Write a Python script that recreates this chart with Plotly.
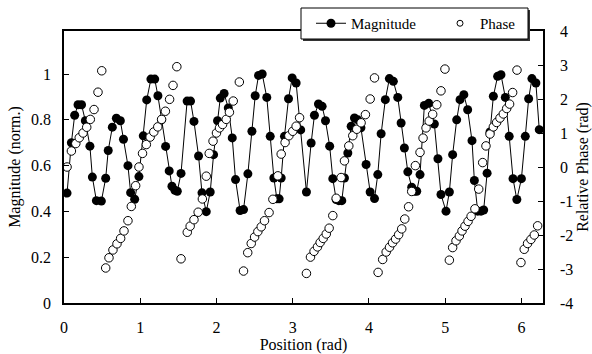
import plotly.graph_objects as go

# ---- data ----
mag_x = [0.04, 0.097, 0.14, 0.184, 0.23, 0.28, 0.34, 0.372, 0.425, 0.49, 0.547, 0.58, 0.634, 0.687, 0.739, 0.78, 0.839, 0.874, 0.927, 0.983,
         1.04, 1.085, 1.14, 1.19, 1.232, 1.28, 1.333, 1.38, 1.416, 1.455, 1.486, 1.535, 1.615, 1.66, 1.705, 1.765, 1.81, 1.866, 1.918, 1.962, 2.014, 2.05,
         2.1, 2.155, 2.207, 2.25, 2.31, 2.355, 2.412, 2.465, 2.508, 2.552, 2.6, 2.66, 2.705, 2.753, 2.792, 2.822, 2.849, 2.892, 2.945, 2.993, 3.045, 3.105,
         3.18, 3.242, 3.285, 3.338, 3.386, 3.43, 3.485, 3.526, 3.57, 3.605, 3.644, 3.679, 3.723, 3.767, 3.81, 3.854, 3.895, 3.963, 4.016, 4.073, 4.116, 4.16,
         4.215, 4.268, 4.32, 4.378, 4.422, 4.465, 4.51, 4.561, 4.596, 4.627, 4.67, 4.727, 4.784, 4.858, 4.905, 4.945, 5.011, 5.055, 5.098, 5.151, 5.195,
         5.245, 5.295, 5.352, 5.383, 5.427, 5.47, 5.505, 5.55, 5.588, 5.632, 5.688, 5.732, 5.789, 5.84, 5.89, 5.94, 6.0, 6.051, 6.095, 6.138, 6.19, 6.234]
mag_y = [0.48, 0.70, 0.82, 0.866, 0.866, 0.796, 0.685, 0.55, 0.447, 0.445, 0.545, 0.666, 0.768, 0.807, 0.796, 0.715, 0.60, 0.482, 0.453, 0.552,
         0.73, 0.887, 0.978, 0.978, 0.905, 0.80, 0.684, 0.577, 0.51, 0.492, 0.488, 0.566, 0.882, 0.882, 0.793, 0.642, 0.481, 0.399, 0.485, 0.648, 0.796, 0.895,
         0.915, 0.852, 0.721, 0.539, 0.404, 0.408, 0.564, 0.75, 0.905, 0.994, 1.0, 0.898, 0.728, 0.546, 0.455, 0.455, 0.546, 0.728, 0.892, 0.983, 0.961, 0.756,
         0.485, 0.699, 0.82, 0.869, 0.859, 0.796, 0.685, 0.543, 0.452, 0.447, 0.447, 0.546, 0.655, 0.772, 0.808, 0.80, 0.765, 0.605, 0.485, 0.456, 0.561, 0.739,
         0.888, 0.98, 0.968, 0.898, 0.786, 0.677, 0.573, 0.506, 0.488, 0.488, 0.561, 0.863, 0.872, 0.782, 0.63, 0.474, 0.401, 0.485, 0.648, 0.80, 0.888,
         0.91, 0.844, 0.709, 0.535, 0.401, 0.401, 0.406, 0.567, 0.747, 0.903, 0.99, 0.997, 0.898, 0.728, 0.543, 0.452, 0.543, 0.728, 0.892, 0.98, 0.961, 0.757]

phase_x = [0.04, 0.097, 0.155, 0.2, 0.25, 0.298, 0.345, 0.394, 0.446, 0.495,
           0.547, 0.59, 0.642, 0.695, 0.743, 0.787, 0.839, 0.883, 0.94, 0.983, 1.03, 1.08, 1.13, 1.178, 1.23, 1.28, 1.33, 1.385, 1.43, 1.48,
           1.535, 1.617, 1.655, 1.705, 1.76, 1.815, 1.866, 1.905, 1.955, 2.0, 2.04, 2.08, 2.128, 2.17, 2.22, 2.3,
           2.355, 2.41, 2.456, 2.5, 2.543, 2.587, 2.63, 2.69, 2.74, 2.805, 2.849, 2.9, 2.95, 3.0, 3.045, 3.09,
           3.18, 3.233, 3.28, 3.325, 3.36, 3.4, 3.44, 3.478, 3.526, 3.57, 3.635, 3.679, 3.736, 3.788, 3.84, 3.897, 3.954, 4.016, 4.073,
           4.12, 4.18, 4.226, 4.27, 4.31, 4.35, 4.39, 4.43, 4.47, 4.52, 4.561, 4.609, 4.67, 4.71, 4.749, 4.79, 4.836, 4.89, 4.945, 4.997,
           5.055, 5.098, 5.142, 5.186, 5.221, 5.26, 5.3, 5.34, 5.39, 5.44, 5.492, 5.535, 5.588, 5.632, 5.675, 5.719, 5.763, 5.807, 5.845, 5.885, 5.942,
           5.994, 6.037, 6.081, 6.125, 6.169, 6.213]
phase_y = [0.0, 0.47, 0.69, 0.86, 1.0, 1.17, 1.40, 1.69, 2.20, 2.83,
           -2.97, -2.67, -2.44, -2.26, -2.1, -1.88, -1.58, -1.16, -0.55, 0.0, 0.4, 0.66, 0.88, 1.03, 1.18, 1.40, 1.64, 1.99, 2.4, 2.95,
           -2.7, -1.92, -1.74, -1.55, -1.33, -0.94, -0.27, 0.40, 0.76, 1.0, 1.15, 1.25, 1.40, 1.61, 1.94, 2.5,
           -3.06, -2.52, -2.25, -2.06, -1.90, -1.76, -1.58, -1.34, -0.95, -0.26, 0.38, 0.72, 0.92, 1.05, 1.2, 1.45,
           -3.13, -2.65, -2.48, -2.35, -2.22, -2.1, -1.97, -1.8, -1.43, -0.92, -0.31, 0.18, 0.62, 0.92, 1.11, 1.30, 1.54, 2.0, 2.62,
           -3.1, -2.72, -2.5, -2.36, -2.23, -2.12, -1.99, -1.82, -1.53, -1.17, -0.72, 0.04, 0.43, 0.85, 1.15, 1.35, 1.55, 1.83, 2.24, 2.88,
           -2.74, -2.37, -2.17, -2.03, -1.88, -1.74, -1.6, -1.45, -1.23, -0.65, 0.13, 0.62, 0.97, 1.18, 1.31, 1.44, 1.56, 1.72, 1.85, 2.19, 2.85,
           -2.81, -2.42, -2.25, -2.13, -2.0, -1.73]

x_ticks = [0, 1, 2, 3, 4, 5, 6]
mag_ticks = [0, 0.2, 0.4, 0.6, 0.8, 1]
phase_ticks = [-4, -3, -2, -1, 0, 1, 2, 3, 4]
phase_ticktext = ["-4", "-3", "-2", "-1", "0", "1", "2", "3", "4"]

FONT = "Liberation Serif"

fig = go.Figure()
fig.add_trace(go.Scatter(
    x=phase_x, y=phase_y, name="Phase", mode="markers", yaxis="y2", showlegend=False,
    marker=dict(symbol="circle", size=8.5, color="white", line=dict(color="black", width=1)),
))
fig.add_trace(go.Scatter(
    x=mag_x, y=mag_y, name="Magnitude", mode="lines+markers", yaxis="y",
    line=dict(color="black", width=1),
    marker=dict(symbol="circle", size=9, color="black"),
))
# legend-only entry for the phase series (smaller legend symbol, as in the reference)
fig.add_trace(go.Scatter(
    x=[None], y=[None], name="Phase", mode="markers", yaxis="y2",
    marker=dict(symbol="circle", size=6, color="white", line=dict(color="black", width=1)),
))

axis_common = dict(showline=True, linecolor="black", linewidth=1.5, ticks="inside",
                   ticklen=5, tickwidth=1.2, tickcolor="black", showgrid=False, zeroline=False,
                   automargin=False,
                   tickfont=dict(family=FONT, size=16, color="black"))

# legend frame (with a slight drop shadow) drawn as shapes, in paper coordinates
def px_x(p):
    return (p - 64) / 479.0

def px_y(p):
    return (303 - p) / 272.0

shapes = [
    dict(type="rect", xref="paper", yref="paper", layer="above",
         x0=px_x(303), x1=px_x(530), y0=px_y(41), y1=px_y(10),
         fillcolor="#333333", line=dict(width=0)),
    dict(type="rect", xref="paper", yref="paper", layer="above",
         x0=px_x(301), x1=px_x(528), y0=px_y(39), y1=px_y(8),
         fillcolor="white", line=dict(color="black", width=1)),
]

fig.update_layout(
    width=592, height=354,
    margin=dict(l=64, r=49, t=31, b=51, autoexpand=False),
    paper_bgcolor="white", plot_bgcolor="white",
    font=dict(family=FONT, size=16, color="black"),
    showlegend=True,
    shapes=shapes,
    legend=dict(orientation="h", x=px_x(311), y=px_y(7), xanchor="left", yanchor="top",
                bgcolor="rgba(0,0,0,0)", borderwidth=0,
                font=dict(family=FONT, size=15, color="black"),
                entrywidth=84),
    xaxis=dict(range=[0, 6.2832], tickvals=x_ticks, mirror=True,
               title=dict(text="Position (rad)", standoff=4, font=dict(family=FONT, size=16)),
               ticklabelstandoff=9, **axis_common),
    yaxis=dict(range=[0, 1.188], tickvals=mag_ticks, side="left",
               title=dict(text="Magnitude (norm.)", standoff=6, font=dict(family=FONT, size=16)),
               ticklabelstandoff=8, **axis_common),
    yaxis2=dict(range=[-4, 4], tickvals=phase_ticks, ticktext=phase_ticktext, side="right",
                overlaying="y",
                title=dict(text="Relative Phase (rad)", standoff=12, font=dict(family=FONT, size=16)),
                ticklabelstandoff=12, **axis_common),
)

fig.write_html("out.html")
